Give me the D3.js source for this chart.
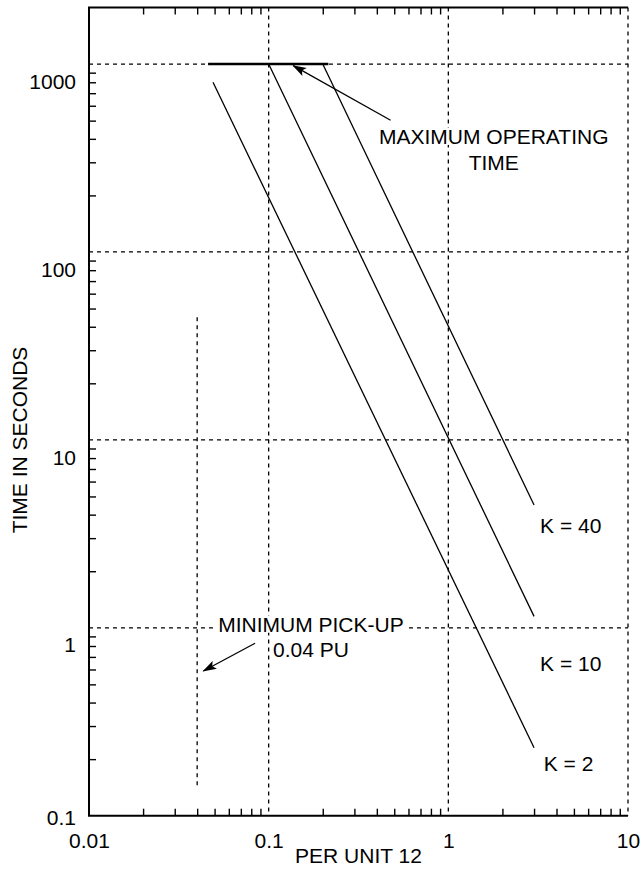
<!DOCTYPE html>
<html>
<head>
<meta charset="utf-8">
<script src="https://cdn.jsdelivr.net/npm/d3@7"></script>
<style>
  html, body { margin: 0; padding: 0; background: #fff; }
  svg { display: block; font-family: "Liberation Sans", Arial, Helvetica, sans-serif; }
  text { fill: #000; }
</style>
</head>
<body>
<svg id="chart" width="643" height="881"></svg>
<script>
// Axis decades and their labels
const xDecades = [0.01, 0.1, 1, 10];
const xTickLabels = ["0.01", "0.1", "1", "10"];
const yDecades = [0.1, 1, 10, 100, 1000];
const yTickLabels = ["0.1", "1", "10", "100", "1000"];
const minorMultiples = [2, 3, 4, 5, 6, 7, 8, 9];

// Characteristic curves: [per unit, seconds] end points
const curveK2 = [[0.049, 800], [3, 0.23]];
const curveK10 = [[0.1, 1000], [3, 1.15]];
const curveK40 = [[0.2, 1000], [3, 4.5]];
const curveNames = ["K = 2", "K = 10", "K = 40"];

// Maximum operating time cap and minimum pick-up level
const maxOperating = [[0.046, 1000], [0.215, 1000]];
const minPickup = [[0.04, 45], [0.04, 0.14]];

const plotLeft = 89, plotRight = 628, plotTop = 7.5, plotBottom = 815.7;
const FONT = 21;

const svg = d3.select("#chart");

const x = d3.scaleLog().domain([0.01, 10]).range([plotLeft, plotRight]);
const y = d3.scaleLog().domain([0.1, 2000]).range([plotBottom, plotTop]);

const xMinor = xDecades.slice(0, -1).flatMap(d => minorMultiples.map(m => d * m));
const yMinor = yDecades.flatMap(d => minorMultiples.map(m => d * m)).filter(v => v < 2000);

// Dashed grid at each decade
const grid = svg.append("g").attr("stroke", "#000").attr("stroke-width", 1.3)
  .attr("stroke-dasharray", "4,4").attr("fill", "none");
grid.selectAll("line.vx").data(xDecades.slice(1)).join("line")
  .attr("x1", d => x(d)).attr("x2", d => x(d))
  .attr("y1", plotTop).attr("y2", plotBottom);
grid.selectAll("line.hy").data(yDecades.slice(1)).join("line")
  .attr("x1", plotLeft).attr("x2", plotRight)
  .attr("y1", d => y(d)).attr("y2", d => y(d));

// Minimum pick-up level
svg.append("line")
  .attr("x1", x(minPickup[0][0])).attr("x2", x(minPickup[1][0]))
  .attr("y1", y(minPickup[0][1])).attr("y2", y(minPickup[1][1]))
  .attr("stroke", "#000").attr("stroke-width", 1.3).attr("stroke-dasharray", "4,4");

// Minor ticks (pointing inward) on bottom, top and left
const minorAxis = (axis, tf) => svg.append("g").attr("transform", tf).call(axis)
  .call(g => g.select(".domain").remove())
  .call(g => g.selectAll("text").remove())
  .call(g => g.selectAll("line").attr("stroke-width", 1.4));
minorAxis(d3.axisBottom(x).tickValues(xMinor).tickSize(-7), `translate(0,${plotBottom})`);
minorAxis(d3.axisTop(x).tickValues(xMinor).tickSize(-7), `translate(0,${plotTop})`);
minorAxis(d3.axisLeft(y).tickValues(yMinor).tickSize(-7), `translate(${plotLeft},0)`);

// Frame: left, bottom and top edges
svg.append("path")
  .attr("d", `M${plotRight},${plotTop}H${plotLeft}V${plotBottom}H${plotRight}`)
  .attr("fill", "none").attr("stroke", "#000").attr("stroke-width", 2);

// Decade labels
svg.append("g").attr("transform", `translate(0,${plotBottom})`)
  .call(d3.axisBottom(x).tickValues(xDecades).tickSize(0).tickPadding(17)
    .tickFormat((d, i) => xTickLabels[i]))
  .call(g => g.select(".domain").remove())
  .call(g => g.selectAll("text").attr("font-size", FONT).attr("font-family", null));

svg.append("g").attr("transform", `translate(${plotLeft},0)`)
  .call(d3.axisLeft(y).tickValues(yDecades).tickSize(0).tickPadding(13)
    .tickFormat((d, i) => yTickLabels[i]))
  .call(g => g.select(".domain").remove())
  .call(g => g.selectAll("text").attr("font-size", FONT).attr("font-family", null)
    .attr("dy", d => d === yDecades[0] ? "0.42em" : "1.15em"));

// Axis titles
svg.append("text").attr("x", (plotLeft + plotRight) / 2).attr("y", 863)
  .attr("text-anchor", "middle").attr("font-size", FONT).text("PER UNIT 12");
svg.append("text").attr("transform", "translate(26.5,440) rotate(-90)")
  .attr("text-anchor", "middle").attr("font-size", FONT).text("TIME IN SECONDS");

// Curves
const line = d3.line().x(d => x(d[0])).y(d => y(d[1]));
const curves = [curveK2, curveK10, curveK40];
svg.append("g").selectAll("path").data(curves).join("path")
  .attr("d", line).attr("fill", "none").attr("stroke", "#000").attr("stroke-width", 1.3);

// Maximum operating time cap
svg.append("path").datum(maxOperating).attr("d", line)
  .attr("fill", "none").attr("stroke", "#000").attr("stroke-width", 2.6);

// Curve labels
const curveLabelAt = [[4.67, 0.173], [4.8, 0.591], [4.8, 3.18]];
svg.append("g").selectAll("text").data(curveNames).join("text")
  .attr("x", (d, i) => x(curveLabelAt[i][0])).attr("y", (d, i) => y(curveLabelAt[i][1]))
  .attr("text-anchor", "middle").attr("font-size", FONT).text(d => d);

// Arrow marker
svg.append("defs").append("marker")
  .attr("id", "arrow").attr("viewBox", "0 -5 14 10")
  .attr("refX", 13).attr("refY", 0)
  .attr("markerWidth", 14).attr("markerHeight", 10)
  .attr("markerUnits", "userSpaceOnUse").attr("orient", "auto")
  .append("path").attr("d", "M0,-4.5L14,0L0,4.5L3,0Z").attr("fill", "#000");

// Multi-line note; each line knocks out the grid only behind its own letters
function note(lines, at, lineGap) {
  const g = svg.append("g");
  lines.forEach((s, i) => {
    const cx = x(at[0]), base = y(at[1]) + i * lineGap;
    const bg = g.append("rect").attr("fill", "#fff");
    const t = g.append("text").attr("text-anchor", "middle").attr("font-size", FONT)
      .attr("x", cx).attr("y", base).text(s);
    const b = t.node().getBBox();
    const cap = FONT * 0.72;
    bg.attr("x", b.x - 2).attr("y", base - cap - 1).attr("width", b.width + 4).attr("height", cap + 2);
  });
}

function arrow(from, to) {
  svg.append("line")
    .attr("x1", x(from[0])).attr("y1", y(from[1]))
    .attr("x2", x(to[0])).attr("y2", y(to[1]))
    .attr("stroke", "#000").attr("stroke-width", 1.3).attr("marker-end", "url(#arrow)");
}

note(["MAXIMUM OPERATING", "TIME"], [1.79, 376], 26);
arrow([0.477, 502], [0.137, 981]);

note(["MINIMUM PICK-UP", "0.04 PU"], [0.172, 0.953], 25);
arrow([0.084, 0.827], [0.0433, 0.589]);
</script>
</body>
</html>
